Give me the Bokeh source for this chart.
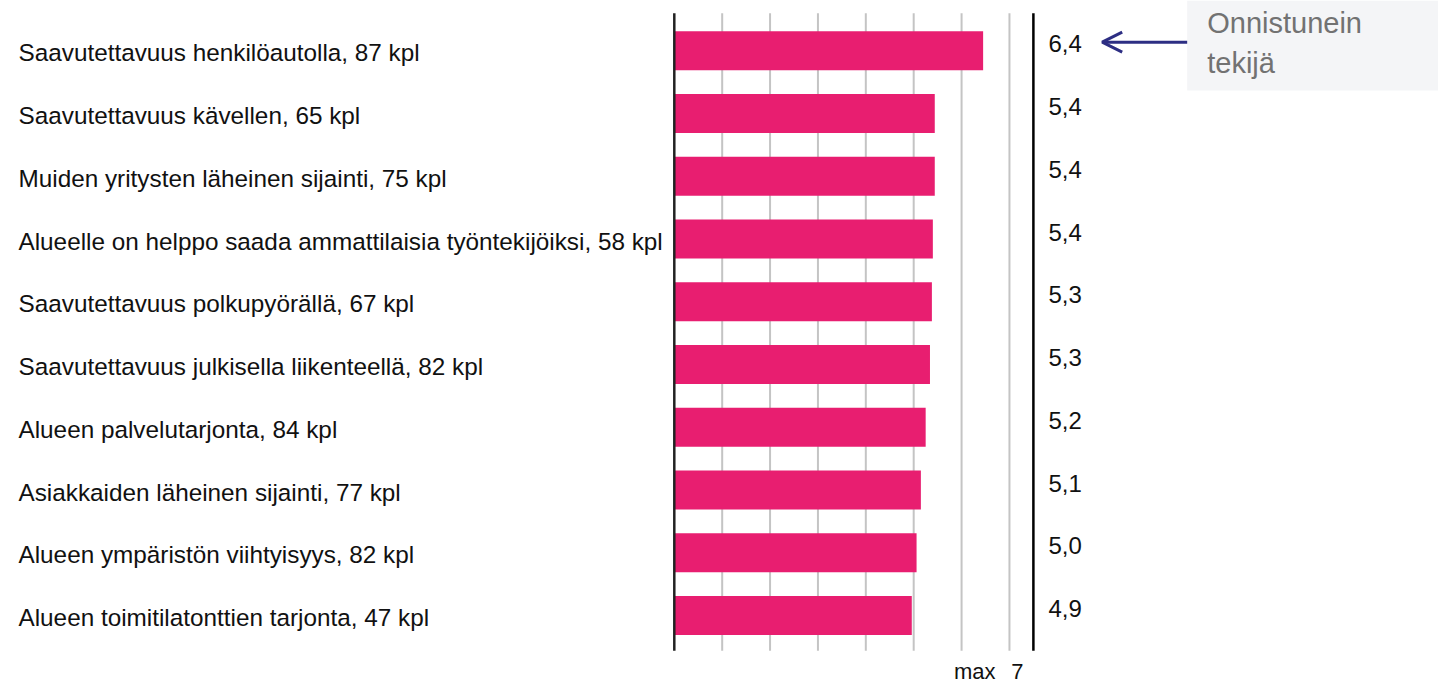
from bokeh.plotting import figure
from bokeh.models import Range1d, ColumnDataSource, Arrow, OpenHead
from bokeh.core.properties import value
from bokeh.embed import file_html
from bokeh.resources import INLINE

# ---- data ----
categories = [
    "Saavutettavuus henkilöautolla, 87 kpl",
    "Saavutettavuus kävellen, 65 kpl",
    "Muiden yritysten läheinen sijainti, 75 kpl",
    "Alueelle on helppo saada ammattilaisia työntekijöiksi, 58 kpl",
    "Saavutettavuus polkupyörällä, 67 kpl",
    "Saavutettavuus julkisella liikenteellä, 82 kpl",
    "Alueen palvelutarjonta, 84 kpl",
    "Asiakkaiden läheinen sijainti, 77 kpl",
    "Alueen ympäristön viihtyisyys, 82 kpl",
    "Alueen toimitilatonttien tarjonta, 47 kpl",
]
values = [6.45, 5.44, 5.44, 5.40, 5.38, 5.34, 5.25, 5.15, 5.06, 4.96]
value_labels = ["6,4", "5,4", "5,4", "5,4", "5,3", "5,3", "5,2", "5,1", "5,0", "4,9"]
grid_ticks = [1, 2, 3, 4, 5, 6, 7]
max_value = 7
max_label = "max"
annotation_text = "Onnistunein\ntekijä"

# ---- layout constants ----
W, H = 1438, 685
X0, X1 = -14.073, 15.961
YB, YT = 10.115, -0.8016
AXIS_TOP, AXIS_BOTTOM = -0.6, 9.56
RIGHT_LINE_X = 7.5
LABEL_X = -13.697
FONT = "Liberation Sans"

idx = list(range(len(categories)))
src = ColumnDataSource(dict(y=idx, v=values, cat=categories, vl=value_labels,
                            rx=[RIGHT_LINE_X] * len(idx), lx=[LABEL_X] * len(idx)))

p = figure(width=W, height=H, x_range=Range1d(X0, X1), y_range=Range1d(YB, YT),
           min_border=0, toolbar_location=None, output_backend="svg")
p.axis.visible = False
p.grid.visible = False
p.outline_line_color = None
p.background_fill_color = "white"

# grid lines
p.segment(x0=grid_ticks, x1=grid_ticks, y0=[AXIS_TOP] * len(grid_ticks),
          y1=[AXIS_BOTTOM] * len(grid_ticks), line_color="#C4C4C4", line_width=2)

# bars
p.hbar(y="y", left=0, right="v", height=0.62, source=src,
       fill_color="#E81E70", line_color=None)

# axis line at zero and right separator line
p.segment(x0=[0, RIGHT_LINE_X], x1=[0, RIGHT_LINE_X], y0=[AXIS_TOP] * 2,
          y1=[AXIS_BOTTOM] * 2, line_color=["#222222", "#000000"], line_width=2.5)

# category labels
p.text(x="lx", y="y", text="cat", source=src, text_font=value(FONT),
       text_font_size="24.3px", text_color="#111111", text_align="left",
       text_baseline="middle", y_offset=2)

# value labels
p.text(x="rx", y="y", text="vl", source=src, text_font=value(FONT),
       text_font_size="24px", text_color="#111111", text_align="left",
       text_baseline="middle", x_offset=15, y_offset=-7)

# max 7
p.text(x=[max_value], y=[YB], text=[str(max_value)], text_font=value(FONT),
       text_font_size="22px", text_color="#111111", text_align="center",
       text_baseline="middle", x_offset=8, y_offset=-14)
p.text(x=[max_value], y=[YB], text=[max_label], text_font=value(FONT),
       text_font_size="22px", text_color="#111111", text_align="right",
       text_baseline="middle", x_offset=-14, y_offset=-14)

# annotation box
BOX_LEFT, BOX_BOTTOM = 10.712, 0.633
p.quad(left=[BOX_LEFT], right=[X1], top=[YT], bottom=[BOX_BOTTOM],
       fill_color="#F4F5F7", line_color=None)
p.text(x=[11.13], y=[YT], text=[annotation_text], text_font=value(FONT),
       text_font_size="29px", text_color="#727272", text_align="left",
       text_baseline="top", text_line_height=1.28, y_offset=6)

arrow = Arrow(x_start=BOX_LEFT, y_start=-0.137, x_end=8.937, y_end=-0.137,
              line_color="#2D2E83", line_width=3,
              end=OpenHead(size=20, line_color="#2D2E83", line_width=3))
p.add_layout(arrow)

open("out.html", "w").write(file_html(p, INLINE))
